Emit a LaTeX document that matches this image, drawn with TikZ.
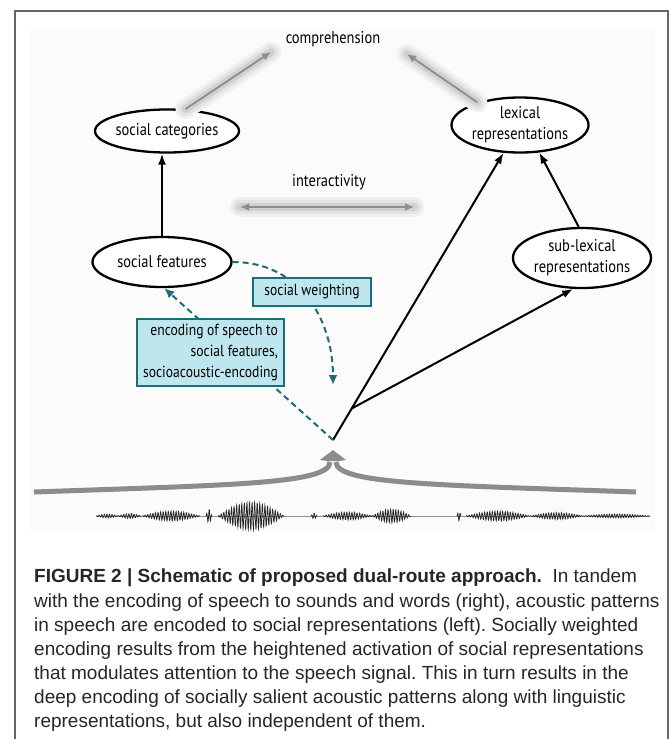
\documentclass[tikz,border=0pt]{standalone}
\usepackage{fontspec}
\setmainfont{Liberation Sans}
\newfontfamily\labfont[FakeStretch=0.85]{PT Sans}
\usetikzlibrary{arrows.meta,calc,shapes.geometric}
\definecolor{tealc}{HTML}{1F6C79}
\definecolor{boxfill}{HTML}{BEE6EE}
\definecolor{arrg}{HTML}{8E8E8E}
\definecolor{bracec}{HTML}{8C8C8C}
\newcommand\wavseg[4]{%
  \pgfmathtruncatemacro\nsamp{(#2-#1)*2.5+2}%
  \draw[wave] plot[domain=#1:#2, samples=\nsamp, smooth] (\x,{516-#3*sin(180*(\x-#1)/(#2-#1))*sin(140*(\x-#1))});}
\frenchspacing
\begin{document}
\begin{tikzpicture}[x=1pt,y=-1pt,
  lab/.style={font=\labfont\fontsize{17}{21}\selectfont, align=center, text=black},
  oval/.style={ellipse, draw=black, line width=2.3pt, fill=white, inner xsep=-8pt, inner ysep=-2pt, lab},
  blk/.style={line width=2pt, -{Latex[length=11pt,width=8pt]}},
  tbox/.style={draw=tealc, line width=2.6pt, fill=boxfill, lab, font=\labfont\fontsize{16}{21}\selectfont, inner sep=0pt},
  tdash/.style={draw=tealc, line width=2pt, dash pattern=on 6pt off 4pt, -{Latex[length=10pt,width=9pt]}},
  glowy/.style={preaction={draw=black!6, line width=20pt, line cap=round, -},
                preaction={draw=black!11, line width=14pt, line cap=round, -},
                preaction={draw=black!18, line width=8pt, line cap=round, -}},
  garr/.style={glowy, draw=arrg, line width=1.8pt, -{Latex[length=9pt,width=8pt]}},
  wave/.style={draw=black!85, line width=0.7pt},
  capt/.style={font=\fontsize{19}{24.1}\selectfont, align=left, inner sep=0pt, text=black!85}
]
\useasboundingbox (0,0) rectangle (671,739);
% panel and frame
\fill[black!1.5] (30,28) rectangle (655,532);
\draw[black!60, line width=1.3pt] (15,739) -- (15,11) -- (668,11) -- (668,739);

% nodes
\node[lab] (comp) at (333,39) {comprehension};
\node[lab] (inter) at (329,182) {interactivity};
\node[oval, minimum width=144pt, minimum height=43pt] (sc) at (167,131) {social categories};
\node[oval, minimum width=137pt, minimum height=55pt] (lex) at (520,125) {lexical\\representations};
\node[oval, minimum width=139pt, minimum height=50pt] (sf) at (162,262) {social features};
\node[oval, minimum width=138pt, minimum height=60pt] (sub) at (582,258) {sub-lexical\\representations};

\coordinate (cl) at (271,52);
\coordinate (cr) at (407,54);
\coordinate (il) at (240,207);
\coordinate (ir) at (414,207);
\coordinate (apex) at (333,440);
\coordinate (br) at ($(apex)!0.1!(lex)$);
\coordinate (swend) at (333,385);

% gray glowing arrows
\draw[garr] (sc.50) -- (cl);
\draw[garr] (lex.152) -- (cr);
\draw[garr, {Latex[length=9pt,width=8pt]}-{Latex[length=9pt,width=8pt]}] (il) -- (ir);

% black arrows
\draw[blk] (sf.north) -- (sf.north |- sc.south);
\draw[blk] (apex) -- (lex);
\draw[blk] (br) -- (sub.-106);
\draw[blk] (sub.96) -- (lex.-55);

% teal dashed arrows
\draw[tdash] (sf.east) .. controls (300,262) and (333,320) .. (swend);
\draw[tdash] (apex) -- (sf.-85);

% boxes
\node[tbox, minimum width=118pt, minimum height=28pt] (sw) at (312,292) {social weighting};
\node[tbox, minimum width=147pt, minimum height=67pt, align=right] (enc) at (210.5,352.5) {encoding of speech to\\social features,\\socioacoustic-encoding};

% brace
\coordinate (bl) at (34,492);
\coordinate (brr) at (636,492);
\coordinate (stl) at (330,462);
\coordinate (str) at (336,462);
\draw[bracec, line width=5pt] (bl) .. controls (230,485) and (330,484) .. (stl);
\draw[bracec, line width=5pt] (brr) .. controls (436,485) and (336,484) .. (str);
\fill[bracec] (333,450) -- (346,460) -- (338,461) -- (328,461) -- (320,460) -- cycle;

% waveform
\draw[black!45, line width=0.5pt] (96,516) -- (650,516);
\wavseg{96}{118}{2}{}
\wavseg{118}{141}{2.5}{}
\wavseg{142}{200}{5}{}
\wavseg{206}{212}{7}{}
\wavseg{218}{284}{14}{}
\wavseg{311}{317}{3}{}
\wavseg{323}{372}{4}{}
\wavseg{372}{411}{7}{}
\wavseg{457}{461}{5}{}
\wavseg{466}{530}{5}{}
\wavseg{530}{583}{3.5}{}
\wavseg{583}{650}{2}{}

% caption
\node[capt, anchor=north west] (cap) at (34,569) {\textbf{FIGURE 2 | Schematic of proposed dual-route approach.}\ \ In tandem\\
with the encoding of speech to sounds and words (right), acoustic patterns\\
in speech are encoded to social representations (left). Socially weighted\\
encoding results from the heightened activation of social representations\\
that modulates attention to the speech signal. This in turn results in the\\
deep encoding of socially salient acoustic patterns along with linguistic\\
representations, but also independent of them.};
\end{tikzpicture}
\end{document}
